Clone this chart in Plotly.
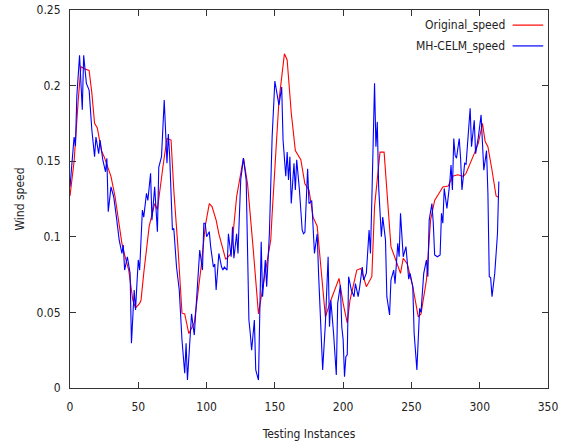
import plotly.graph_objects as go

# ---- data ----
orig_x = [0, 3, 6, 8, 11, 14, 16, 18, 20, 23, 25, 28, 30, 33, 35, 38, 40, 43, 46, 48, 51, 52, 54, 58,
          62, 64, 68, 71, 74, 76, 79, 82, 84, 87, 91, 96, 99, 102, 104, 107, 109, 114, 118, 122, 127,
          130, 134, 138, 142, 147, 148, 151, 153, 157, 159, 162, 165, 169, 172, 175, 178, 181, 183,
          187, 191, 194, 197, 200, 203, 205, 210, 213, 217, 221, 223, 227, 230, 232, 235, 239, 242,
          244, 247, 251, 255, 257, 261, 264, 267, 271, 273, 277, 280, 284, 288, 290, 293, 296, 299,
          302, 304, 306, 309, 311, 312, 314]
orig_y = [0.127, 0.150, 0.190, 0.2125, 0.211, 0.210, 0.195, 0.175, 0.172, 0.157, 0.153, 0.146, 0.140,
          0.1265, 0.115, 0.0957, 0.088, 0.078, 0.058, 0.053, 0.056, 0.058, 0.076, 0.107, 0.122, 0.118,
          0.146, 0.165, 0.164, 0.131, 0.0935, 0.0495, 0.049, 0.036, 0.043, 0.080, 0.107, 0.122, 0.120,
          0.111, 0.102, 0.085, 0.089, 0.1265, 0.152, 0.135, 0.0935, 0.049, 0.071, 0.098, 0.115, 0.165,
          0.190, 0.221, 0.217, 0.182, 0.157, 0.151, 0.135, 0.131, 0.113, 0.107, 0.087, 0.047, 0.058,
          0.065, 0.0725, 0.056, 0.043, 0.058, 0.078, 0.079, 0.067, 0.0736, 0.120, 0.156, 0.156, 0.131,
          0.0935, 0.0835, 0.0758, 0.0858, 0.082, 0.067, 0.047, 0.049, 0.0714, 0.111, 0.124, 0.130,
          0.133, 0.1336, 0.140, 0.141, 0.140, 0.142, 0.148, 0.155, 0.162, 0.175, 0.163, 0.1596, 0.144,
          0.131, 0.127, 0.126]

pred_x = [0, 3, 4, 5, 7, 9, 10, 12, 14, 16, 18, 19, 21, 22, 24, 26, 27, 28, 30, 32, 34, 36, 38, 39,
          40, 42, 44, 45, 47, 48, 49, 50, 51, 53, 54, 56, 57, 59, 60, 62, 64, 65, 67, 69, 71, 72, 73,
          75, 76, 78, 80, 82, 84, 85, 86, 88, 89, 91, 93, 95, 97, 98, 99, 100, 102, 103, 105, 106, 107,
          109, 111, 112, 113, 115, 116, 118, 119, 120, 122, 123, 125, 127, 129, 131, 132, 133, 135,
          136, 138, 139, 140, 141, 143, 144, 146, 148, 150, 153, 155, 156, 158, 159, 160, 161, 162,
          164, 165, 166, 168, 170, 171, 172, 174, 175, 177, 179, 181, 182, 184, 185, 187, 189, 190,
          191, 193, 195, 196, 198, 199, 200, 201, 202, 203, 204, 206, 208, 209, 211, 212, 214, 215,
          217, 219, 220, 221, 223, 224, 225, 226, 228, 229, 231, 232, 234, 235, 237, 238, 240, 241,
          242, 244, 246, 248, 249, 251, 252, 254, 255, 256, 257, 259, 261, 262, 263, 265, 266, 267,
          269, 271, 272, 273, 274, 276, 278, 279, 280, 281, 282, 283, 285, 286, 287, 289, 290, 293,
          294, 296, 297, 299, 301, 303, 305, 306, 307, 308, 309, 311, 313, 314]
pred_y = [0.133, 0.166, 0.160, 0.193, 0.220, 0.184, 0.220, 0.2015, 0.197, 0.1706, 0.153, 0.166, 0.155,
          0.164, 0.151, 0.143, 0.152, 0.1166, 0.133, 0.1265, 0.113, 0.098, 0.089, 0.0946, 0.078,
          0.0868, 0.0758, 0.0296, 0.0648, 0.0516, 0.069, 0.0847, 0.078, 0.1177, 0.113, 0.1288, 0.124,
          0.142, 0.111, 0.133, 0.1034, 0.146, 0.153, 0.1905, 0.1486, 0.168, 0.153, 0.1045, 0.1056,
          0.080, 0.0648, 0.0317, 0.0097, 0.0296, 0.0053, 0.036, 0.049, 0.035, 0.0648, 0.0913, 0.078,
          0.109, 0.109, 0.100, 0.1034, 0.0935, 0.080, 0.082, 0.0648, 0.089, 0.080, 0.078, 0.080, 0.078,
          0.102, 0.0868, 0.1067, 0.0858, 0.102, 0.089, 0.1376, 0.152, 0.1376, 0.045, 0.036, 0.025,
          0.045, 0.012, 0.0053, 0.049, 0.0968, 0.0604, 0.0847, 0.067, 0.102, 0.166, 0.203, 0.187,
          0.199, 0.164, 0.140, 0.156, 0.1376, 0.153, 0.122, 0.1486, 0.131, 0.151, 0.131, 0.1045,
          0.102, 0.103, 0.145, 0.122, 0.124, 0.089, 0.102, 0.0758, 0.036, 0.012, 0.0428, 0.0868,
          0.0405, 0.058, 0.036, 0.0086, 0.056, 0.068, 0.0405, 0.032, 0.0075, 0.0207, 0.022, 0.0736,
          0.0648, 0.0604, 0.069, 0.0604, 0.066, 0.080, 0.0714, 0.076, 0.1045, 0.089, 0.124, 0.2015,
          0.1596, 0.176, 0.133, 0.100, 0.113, 0.098, 0.0604, 0.0483, 0.0714, 0.078, 0.069, 0.0957,
          0.0868, 0.1155, 0.0868, 0.0935, 0.072, 0.0758, 0.067, 0.036, 0.012, 0.036, 0.0527, 0.050,
          0.0758, 0.0847, 0.0736, 0.111, 0.122, 0.109, 0.088, 0.0868, 0.088, 0.1155, 0.109, 0.132,
          0.1188, 0.135, 0.1475, 0.131, 0.165, 0.154, 0.152, 0.165, 0.152, 0.131, 0.1486, 0.148,
          0.185, 0.1596, 0.177, 0.155, 0.166, 0.1806, 0.144, 0.157, 0.1288, 0.0736, 0.073, 0.0604,
          0.0758, 0.102, 0.1365]

x_ticks = [0, 50, 100, 150, 200, 250, 300, 350]
y_ticks = [0, 0.05, 0.1, 0.15, 0.2, 0.25]
y_tick_text = ["0", "0.05", "0.1", "0.15", "0.2", "0.25"]
series_names = ["Original_speed", "MH-CELM_speed"]

FONT = "DejaVu Sans Condensed, Liberation Sans Narrow, DejaVu Sans, sans-serif"
TXT = "#222222"
AX = "#333333"

fig = go.Figure()
fig.add_trace(go.Scatter(x=orig_x, y=orig_y, mode="lines", name=series_names[0],
                         line=dict(color="#ff0000", width=1.1), showlegend=False))
fig.add_trace(go.Scatter(x=pred_x, y=pred_y, mode="lines", name=series_names[1],
                         line=dict(color="#0000ff", width=1.1), showlegend=False))

# gnuplot-style legend: text right-aligned, line sample to the right
legend_rows = [(series_names[0], "#ff0000", 0.960), (series_names[1], "#0000ff", 0.905)]
for name, col, yy in legend_rows:
    fig.add_annotation(x=0.914, y=yy, xref="paper", yref="paper", text=name, showarrow=False,
                       xanchor="right", yanchor="middle",
                       font=dict(family=FONT, size=12, color=TXT))
    fig.add_shape(type="line", xref="paper", yref="paper", x0=0.926, x1=0.99, y0=yy, y1=yy,
                  line=dict(color=col, width=1.2))

fig.update_layout(
    width=576, height=445,
    margin=dict(l=70, r=28, t=10, b=57, autoexpand=False),
    paper_bgcolor="white", plot_bgcolor="white",
    font=dict(family=FONT, size=12, color=TXT),
)
fig.update_xaxes(range=[0, 350], tickvals=x_ticks, ticktext=[str(v) for v in x_ticks],
                 automargin=False,
                 showgrid=False, zeroline=False, showline=True, linecolor=AX, linewidth=1,
                 mirror="ticks", ticks="inside", ticklen=6, tickcolor=AX,
                 ticklabelstandoff=8,
                 title=dict(text="Testing Instances", standoff=16,
                            font=dict(family=FONT, size=12, color=TXT)))
fig.update_yaxes(range=[0, 0.25], tickvals=y_ticks, ticktext=y_tick_text,
                 automargin=False,
                 showgrid=False, zeroline=False, showline=True, linecolor=AX, linewidth=1,
                 mirror="ticks", ticks="inside", ticklen=6, tickcolor=AX,
                 ticklabelstandoff=6,
                 title=dict(text="Wind speed", standoff=9,
                            font=dict(family=FONT, size=12, color=TXT)))

fig.write_html("out.html")
